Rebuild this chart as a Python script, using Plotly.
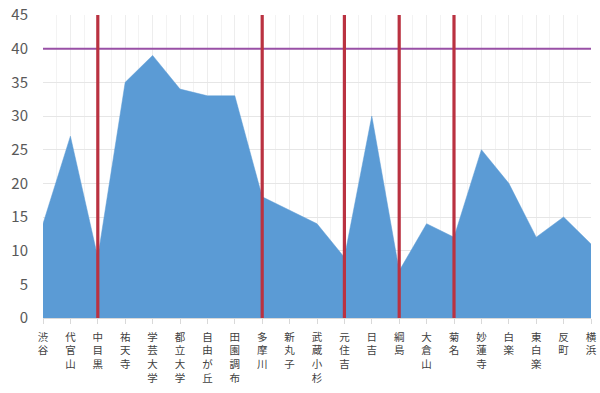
import plotly.graph_objects as go

stations = ["渋谷", "代官山", "中目黒", "祐天寺", "学芸大学", "都立大学", "自由が丘", "田園調布",
            "多摩川", "新丸子", "武蔵小杉", "元住吉", "日吉", "綱島", "大倉山", "菊名",
            "妙蓮寺", "白楽", "東白楽", "反町", "横浜"]
values = [14, 27, 9, 35, 39, 34, 33, 33, 18, 16, 14, 9, 30, 7, 14, 12, 25, 20, 12, 15, 11]
express_stops = ["中目黒", "多摩川", "元住吉", "綱島", "菊名"]
limit_value = 40
y_max = 45
y_ticks = [0, 5, 10, 15, 20, 25, 30, 35, 40, 45]

idx = list(range(len(stations)))
ticktext = ["<br>".join(list(s)) for s in stations]

fig = go.Figure()
fig.add_trace(go.Scatter(
    x=idx, y=values, mode="lines", fill="tozeroy",
    line=dict(color="#5B9BD5", width=0.5), fillcolor="#5B9BD5",
    hoverinfo="skip", showlegend=False))

# horizontal limit line
fig.add_trace(go.Scatter(
    x=[idx[0] - 0.08, idx[-1]], y=[limit_value, limit_value], mode="lines",
    line=dict(color="#9950A6", width=2), showlegend=False, hoverinfo="skip",
    cliponaxis=False))

# express stop lines
for st in express_stops:
    i = stations.index(st)
    fig.add_trace(go.Scatter(
        x=[i, i], y=[-0.3, y_max], mode="lines",
        line=dict(color="#BA3241", width=3.2), showlegend=False, hoverinfo="skip",
        cliponaxis=False))

fig.update_layout(
    width=600, height=393,
    margin=dict(l=43, r=9, t=15, b=75),
    paper_bgcolor="white", plot_bgcolor="white",
    font=dict(family="Noto Sans CJK JP, Noto Sans, sans-serif", color="#595959"),
)
fig.update_xaxes(
    range=[0, len(stations) - 1], automargin=False,
    tickmode="array", tickvals=idx, ticktext=ticktext,
    tickangle=0, tickfont=dict(size=10.5, color="#404040"),
    ticks="outside", ticklen=5, tickcolor="#D9D9D9",
    ticklabelstandoff=4,
    showline=True, linecolor="#D9D9D9", linewidth=1,
    showgrid=True, gridcolor="#EDEDED", gridwidth=1,
    minor=dict(dtick=0.5, tick0=0, showgrid=True, gridcolor="#F3F3F3", gridwidth=1),
    zeroline=False, fixedrange=True,
)
fig.update_yaxes(
    range=[0, y_max], tickvals=y_ticks, automargin=False,
    tickfont=dict(size=15, color="#595959"),
    ticklabelstandoff=14,
    showgrid=True, gridcolor="#E6E6E6", gridwidth=1,
    zeroline=False, showline=False, ticks="", fixedrange=True,
)

fig.write_html("out.html", config={"displayModeBar": False},
               post_script="document.body.style.margin='0';")
